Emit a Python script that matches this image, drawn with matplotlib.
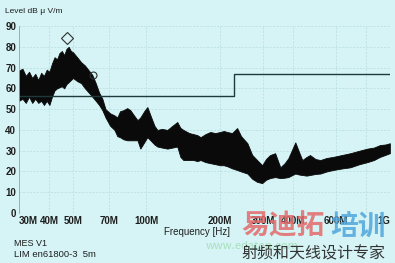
import matplotlib
matplotlib.use("Agg")
import matplotlib.pyplot as plt
import numpy as np

plt.rcParams['font.family'] = ['Liberation Sans', 'DejaVu Sans']

# Datos (frecuencia en MHz, nivel en dB uV/m)
freq_mhz = [30, 31, 32, 33, 34, 35, 36, 37, 38, 39, 40, 41, 42, 43, 44, 45, 46, 47, 48,
            49, 50, 52, 54, 56, 58, 60, 62, 64, 66, 68, 71, 74, 76, 78, 80.5, 83.5,
            86, 89, 92, 94.5, 98, 101, 104, 108, 111, 116, 122, 128, 134, 138, 142,
            150, 156, 162, 167, 175, 183, 192, 201, 208, 215, 225, 236, 245, 260,
            272, 285, 299, 310, 322, 338, 355, 370, 383, 409, 425, 437, 455, 470,
            495, 518, 550, 584, 640, 688, 750, 808, 860, 910, 960, 1000]
upper = [68.5, 69.5, 66, 68, 65, 67, 64, 67.5, 66, 69, 68, 72, 75, 74, 77, 78, 76, 79, 80,
         78, 77.4, 75, 72.6, 71, 68.7, 66.5, 62.5, 58, 55, 50, 48, 47, 46, 49, 49.5, 50.5,
         49.5, 47, 44.7, 46, 49, 51, 47, 42, 40, 40.5, 40, 42, 43.8, 41, 40,
         38.5, 38, 37.5, 36.5, 38, 39, 38.5, 39, 39.5, 39, 38.5, 40.9, 37, 33.6,
         28, 25.5, 23, 26, 27.9, 28.8, 22, 24, 26.4, 34, 29, 25.5, 27, 27.9,
         26, 25.5, 26.5, 27, 28, 28.8, 30, 31, 31.5, 32.7, 33, 33.6]
lower = [54, 55, 53, 56, 53, 55, 53, 54, 52, 54, 52, 56, 59, 60, 60.5, 61, 60, 62, 63,
         64, 65, 63.5, 62.5, 60, 58, 56, 54, 52, 49.5, 46, 42, 40, 37, 36.5, 35.5, 35,
         35, 35, 35, 31, 34, 36.5, 35, 33, 32, 31.5, 31, 31.5, 32, 27, 25.5,
         25.5, 25.5, 25, 25.5, 24.5, 24, 23.5, 23, 23, 22.5, 21.5, 20.7, 20, 19,
         16.5, 15, 14.4, 16, 16.8, 17.3, 16.8, 17, 17.3, 19, 18.5, 18.3, 18, 18.3,
         18.8, 19, 20, 20.7, 21.5, 22, 23.5, 24.5, 25.5, 27, 28, 28.8]

# Limite en61800-3 5m
limit_freq = [30, 230, 230, 1000]
limit_level = [56.3, 56.3, 66.7, 66.7]

# Marcadores de picos
peak_diamond = (47.2, 84.3)
peak_circle = (60.5, 66.3)

xticks_mhz = [30, 40, 50, 70, 100, 200, 300, 400, 600, 1000]
xtick_labels = ["30M", "40M", "50M", "70M", "100M", "200M", "300M", "400M", "600M", "1G"]
grid_mhz = [40, 50, 70, 100, 200, 300, 400, 600, 800]
yticks = list(range(0, 100, 10))

bg = "#d6f4f6"
fig = plt.figure(figsize=(3.95, 2.63), dpi=100, facecolor=bg)
ax = fig.add_axes([0.048, 0.19, 0.939, 0.711], facecolor=bg)

f = np.array(freq_mhz) * 1e6
ax.fill_between(f, lower, upper, color="#0a0a0a", linewidth=0.6, edgecolor="#0a0a0a")
ax.plot(np.array(limit_freq) * 1e6, limit_level, color="#1e3a3a", linewidth=1.0)

ax.plot(peak_diamond[0] * 1e6, peak_diamond[1], marker="D", markersize=6.5,
        markerfacecolor="none", markeredgecolor="#303030", markeredgewidth=0.8)
ax.plot(peak_circle[0] * 1e6, peak_circle[1], marker="o", markersize=5,
        markerfacecolor="none", markeredgecolor="#303030", markeredgewidth=0.8)

ax.set_xscale("log")
ax.set_xlim(30e6, 1000e6)
ax.set_ylim(0, 90)

ax.set_xticks([m * 1e6 for m in xticks_mhz])
ax.set_xticklabels(xtick_labels)
ax.xaxis.set_minor_locator(matplotlib.ticker.NullLocator())
ax.set_yticks(yticks)
ax.tick_params(length=0, labelsize=7, colors="#1e1e1e", pad=2)
for lbl in ax.get_xticklabels():
    lbl.set_fontweight("bold")
for lbl in ax.get_yticklabels():
    lbl.set_fontweight("bold")
ax.get_xticklabels()[0].set_ha("left")
ax.get_xticklabels()[-1].set_ha("right")

for y in yticks:
    ax.axhline(y, color="#b6dcdf", linewidth=0.5, linestyle=(0, (3, 2)), zorder=0)
for m in grid_mhz:
    ax.axvline(m * 1e6, color="#b6dcdf", linewidth=0.5, linestyle=(0, (3, 2)), zorder=0)

for s in ["top", "right", "bottom"]:
    ax.spines[s].set_visible(False)
ax.spines["left"].set_color("#8aa6a8")
ax.spines["left"].set_linewidth(0.6)

fig.text(0.013, 0.957, "Level dB \u03bc V/m", fontsize=6, color="#1e1e1e", va="center")
fig.text(0.498, 0.117, "Frequency [Hz]", fontsize=7, color="#1e1e1e", ha="center", va="center")
fig.text(0.035, 0.076, "MES V1", fontsize=6.5, color="#1e1e1e", va="center")
fig.text(0.035, 0.034, "LIM en61800-3  5m", fontsize=6.8, color="#1e1e1e", va="center")

# Marca de agua
cjk = ['Noto Sans CJK SC', 'DejaVu Sans']
fig.text(0.522, 0.066, "www.edatop.com", fontsize=8, color="#7fd08a", alpha=0.55,
         va="center", family=cjk)
fig.text(0.612, 0.138, "易迪拓", fontsize=20, color="#e46a6a", alpha=0.85,
         fontweight="bold", va="center", family=cjk)
fig.text(0.835, 0.138, "培训", fontsize=20, color="#4ea6dc", alpha=0.85,
         fontweight="bold", va="center", family=cjk)
fig.text(0.612, 0.036, "射频和天线设计专家", fontsize=11.5, color="#333333",
         va="center", family=cjk)

fig.savefig("out.png", dpi=100, facecolor=bg)
